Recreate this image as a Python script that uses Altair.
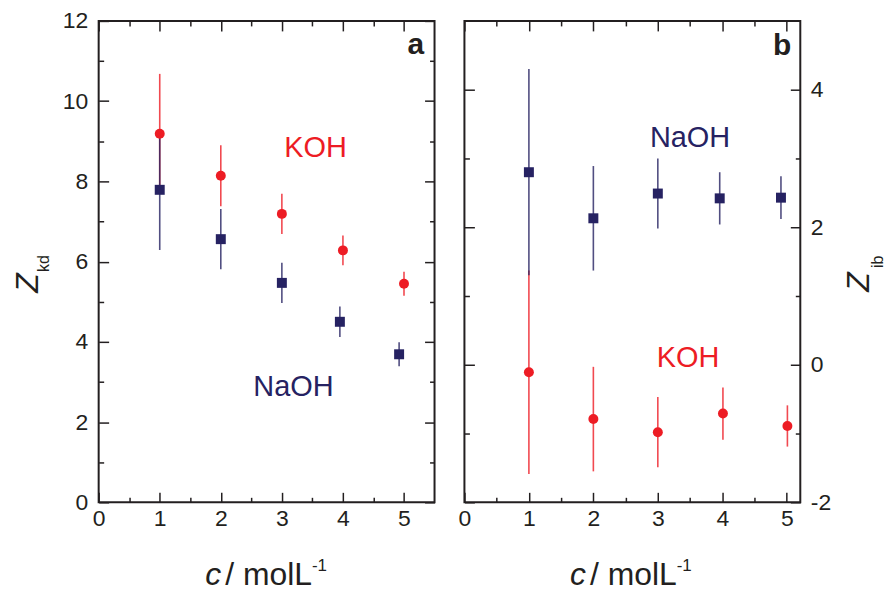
import altair as alt
import pandas as pd

# ---------------- data ----------------
series = ["KOH", "NaOH"]
colors = ["#ed1c24", "#262262"]
shapes = ["circle", "square"]

# panel a : Z_kd
conc_a_koh = [1, 2, 3, 4, 5]
zkd_koh = [9.19, 8.14, 7.19, 6.28, 5.45]
zkd_koh_err = [1.49, 0.76, 0.50, 0.37, 0.30]
conc_a_naoh = [1, 2, 3, 3.95, 4.92]
zkd_naoh = [7.79, 6.56, 5.47, 4.50, 3.69]
zkd_naoh_err = [1.50, 0.75, 0.50, 0.38, 0.30]

# panel b : Z_ib
conc_b_koh = [1, 2, 3, 4.01, 5.01]
zib_koh = [-0.11, -0.79, -0.98, -0.71, -0.89]
zib_koh_err = [1.48, 0.76, 0.51, 0.38, 0.30]
conc_b_naoh = [1, 2, 3, 3.96, 4.91]
zib_naoh = [2.80, 2.13, 2.49, 2.42, 2.43]
zib_naoh_err = [1.50, 0.76, 0.51, 0.38, 0.31]

# axis ticks
xa_major = [0, 1, 2, 3, 4, 5]
xa_minor = [0.5, 1.5, 2.5, 3.5, 4.5]
ya_major = [0, 2, 4, 6, 8, 10, 12]
ya_minor = [1, 3, 5, 7, 9, 11]
xb_major = [0, 1, 2, 3, 4, 5]
xb_minor = [0.5, 1.5, 2.5, 3.5, 4.5]
yb_major = [-2, 0, 2, 4]
yb_minor = [-1, 1, 3]

# in-plot labels
notes_a_text = ["KOH", "NaOH"]
notes_a_c = [3.55, 3.19]
notes_a_z = [8.62, 2.66]
notes_b_text = ["KOH", "NaOH"]
notes_b_c = [3.47, 3.50]
notes_b_z = [-0.03, 3.16]

FONT = "Liberation Sans"
INK = "#231f20"


def table(c, z, e, name):
    return pd.DataFrame({
        "c": c, "z": z,
        "lo": [a - b for a, b in zip(z, e)],
        "hi": [a + b for a, b in zip(z, e)],
        "series": name,
    })


def axis(orient, values, size, labels=False, pad=0):
    kw = dict(orient=orient, values=values, tickSize=size, offset=-size,
              domain=False, grid=False, ticks=True, tickColor=INK,
              tickWidth=1.5, title=None, labels=labels)
    if labels:
        kw.update(labelFont=FONT, labelFontSize=23, labelColor=INK,
                  labelPadding=pad, labelFlush=False, labelOverlap=False,
                  labelExpr="'' + datum.value")
    return alt.Axis(**kw)


one = pd.DataFrame({"k": [0]})


def txt(text, x, y, size, angle=0, align="left", style="normal", weight="normal"):
    kw = dict(text=text, fontSize=size, font=FONT, fontStyle=style,
              fontWeight=weight, align=align, baseline="alphabetic", color=INK)
    if angle:
        kw["angle"] = angle
    return alt.Chart(one).mark_text(**kw).encode(x=alt.value(x), y=alt.value(y))


def panel(df, notes, tag, xdom, ydom, xmaj, xmin, ymaj, ymin, left_lab, right_lab,
          W, H, titles):
    xs = alt.Scale(domain=xdom, nice=False, zero=False)
    ys = alt.Scale(domain=ydom, nice=False, zero=False)
    cs = alt.Scale(domain=series, range=colors)
    ss = alt.Scale(domain=series, range=shapes)
    base = alt.Chart(df)
    bars = base.mark_rule(strokeWidth=1.6, opacity=0.8).encode(
        x=alt.X("c:Q", scale=xs, axis=axis("bottom", xmaj, 10, True, 5)),
        y=alt.Y("lo:Q", scale=ys, axis=axis("left", ymaj, 10, left_lab, 11)),
        y2="hi:Q",
        color=alt.Color("series:N", scale=cs, legend=None),
    )
    pts = base.mark_point(filled=True, opacity=1, size=100, strokeWidth=0).encode(
        x=alt.X("c:Q", scale=xs, axis=None),
        y=alt.Y("z:Q", scale=ys, axis=None),
        color=alt.Color("series:N", scale=cs, legend=None),
        shape=alt.Shape("series:N", scale=ss, legend=None),
    )
    g1 = base.mark_point(opacity=0).encode(
        x=alt.X("c:Q", scale=xs, axis=axis("bottom", xmin, 5)),
        y=alt.Y("z:Q", scale=ys, axis=axis("left", ymin, 5)),
    )
    g2 = base.mark_point(opacity=0).encode(
        x=alt.X("c:Q", scale=xs, axis=axis("top", xmaj, 10)),
        y=alt.Y("z:Q", scale=ys, axis=axis("right", ymaj, 10, right_lab, 10)),
    )
    g3 = base.mark_point(opacity=0).encode(
        x=alt.X("c:Q", scale=xs, axis=axis("top", xmin, 5)),
        y=alt.Y("z:Q", scale=ys, axis=axis("right", ymin, 5)),
    )
    ann = alt.Chart(notes).mark_text(fontSize=29, font=FONT, align="center",
                                     baseline="alphabetic").encode(
        x=alt.X("c:Q", scale=xs, axis=None),
        y=alt.Y("z:Q", scale=ys, axis=None),
        text="text:N",
        color=alt.Color("series:N", scale=cs, legend=None),
    )
    lab = alt.Chart(tag).mark_text(fontSize=30, font=FONT, fontWeight="bold",
                                   align="right", baseline="alphabetic",
                                   color=INK).encode(
        x=alt.X("c:Q", scale=xs, axis=None),
        y=alt.Y("z:Q", scale=ys, axis=None),
        text="text:N",
    )
    return alt.layer(bars, pts, g1, g2, g3, ann, lab, *titles).properties(
        width=W, height=H)


df_a = pd.concat([table(conc_a_koh, zkd_koh, zkd_koh_err, "KOH"),
                  table(conc_a_naoh, zkd_naoh, zkd_naoh_err, "NaOH")])
df_b = pd.concat([table(conc_b_koh, zib_koh, zib_koh_err, "KOH"),
                  table(conc_b_naoh, zib_naoh, zib_naoh_err, "NaOH")])
notes_a = pd.DataFrame({"text": notes_a_text, "c": notes_a_c, "z": notes_a_z,
                        "series": notes_a_text})
notes_b = pd.DataFrame({"text": notes_b_text, "c": notes_b_c, "z": notes_b_z,
                        "series": notes_b_text})
tag_a = pd.DataFrame({"text": ["a"], "c": [5.33], "z": [11.17]})
tag_b = pd.DataFrame({"text": ["b"], "c": [5.07], "z": [4.51]})

W, H = 337, 483

titles_a = [
    txt("c", 107, 566, 32, style="italic"),
    txt("/ molL", 127, 566, 32),
    txt("-1", 214, 552, 17),
    txt("Z", -61, 263, 32, angle=270, align="center", style="italic"),
    txt("kd", -50, 252, 16, angle=270),
]
titles_b = [
    txt("c", 106, 566, 32, style="italic"),
    txt("/ molL", 126, 566, 32),
    txt("-1", 213, 552, 17),
    txt("Z", 406, 262, 32, angle=270, align="center", style="italic"),
    txt("ib", 420, 248, 16, angle=270),
]

pa = panel(df_a, notes_a, tag_a, [0, 5.5], [0, 12], xa_major, xa_minor,
           ya_major, ya_minor, True, False, W, H, titles_a)
pb = panel(df_b, notes_b, tag_b, [0, 5.21], [-2, 5], xb_major, xb_minor,
           yb_major, yb_minor, False, True, W, H, titles_b)

chart = alt.hconcat(pa, pb, spacing=20).properties(
    padding={"left": 11, "top": 8, "right": 1, "bottom": 0},
    background="white",
).configure_view(stroke=INK, strokeWidth=2)

chart.save("out.html", embed_options={"renderer": "svg", "actions": False})
